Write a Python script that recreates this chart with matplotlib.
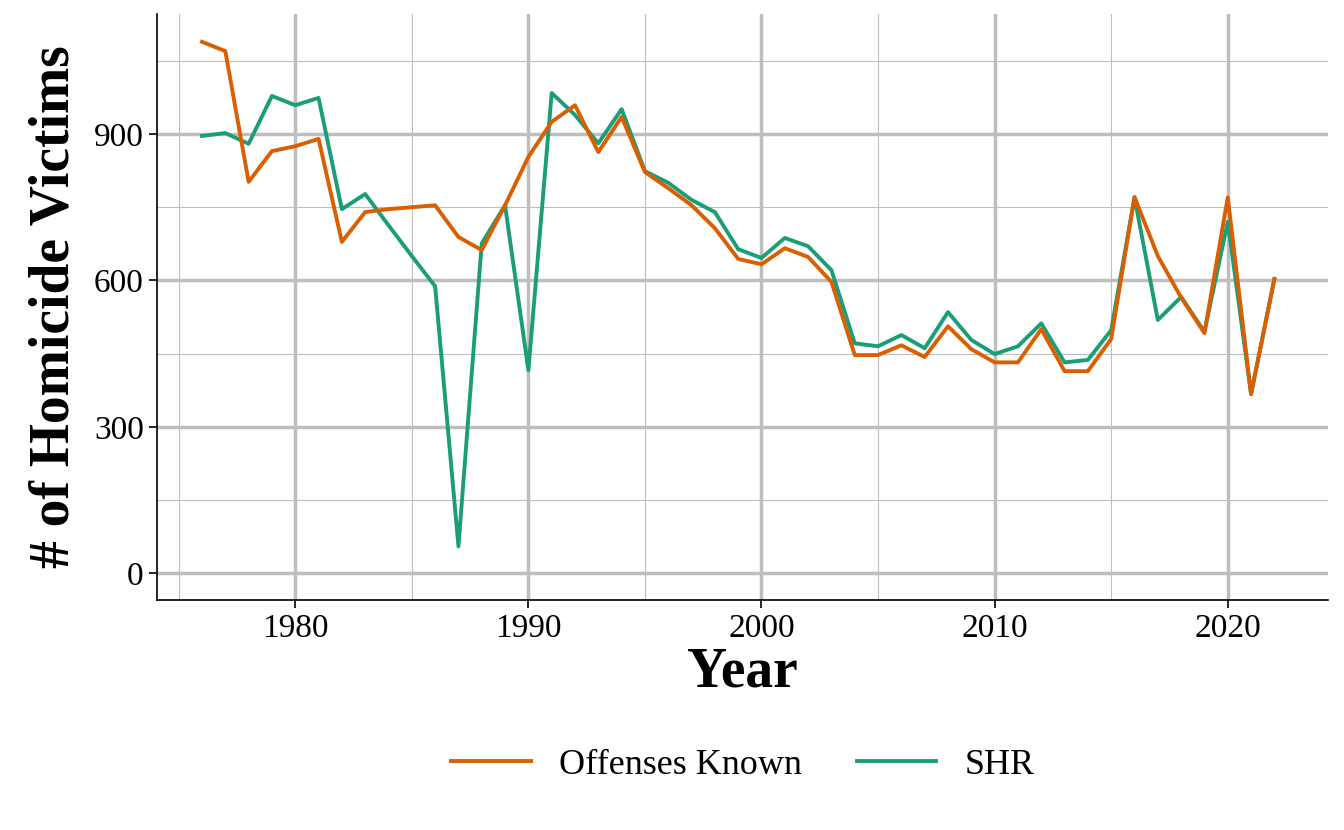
import numpy as np
import matplotlib.pyplot as plt
from matplotlib.ticker import MultipleLocator

plt.rcParams['font.family'] = ['Liberation Serif', 'DejaVu Serif']

years = np.arange(1976, 2023)
offenses_known = [1089, 1070, 802, 865, 875, 890, 679, 740, 746, 750, 754, 689, 662, 754,
                  853, 925, 959, 863, 935, 822, 789, 754, 707, 644, 633, 666, 648, 597,
                  447, 447, 467, 443, 506, 459, 432, 432, 500, 414, 414, 480, 771, 650,
                  565, 492, 770, 367, 603]
shr = [896, 902, 880, 978, 959, 974, 746, 777, 713, 650, 588, 55, 676, 754,
       416, 984, 939, 881, 951, 824, 800, 765, 740, 664, 646, 687, 670, 621,
       471, 465, 488, 461, 535, 478, 449, 465, 512, 432, 437, 498, 770, 519,
       566, 495, 720, 367, 603]

fig = plt.figure(figsize=(13.44, 8.3), dpi=100)
ax = fig.add_axes([157/1344, 1-600/830, (1328-157)/1344, (600-14)/830])

ax.plot(years, shr, color='#1B9E77', lw=2.8, label='SHR')
ax.plot(years, offenses_known, color='#D95F02', lw=2.8, label='Offenses Known')

ax.set_xlim(1974.07, 2024.3)
ax.set_ylim(-55, 1146)
ax.xaxis.set_major_locator(MultipleLocator(10))
ax.xaxis.set_minor_locator(MultipleLocator(5))
ax.yaxis.set_major_locator(MultipleLocator(300))
ax.yaxis.set_minor_locator(MultipleLocator(150))
ax.grid(which='major', color='#bebebe', lw=2.5)
ax.grid(which='minor', color='#bebebe', lw=0.8)
ax.set_axisbelow(True)
for s in ['top', 'right']:
    ax.spines[s].set_visible(False)
for s in ['left', 'bottom']:
    ax.spines[s].set_linewidth(1.2)
ax.tick_params(labelsize=24, length=6, width=1.2)
ax.tick_params(which='minor', length=0)

ax.set_xlabel('Year', fontsize=40, fontweight='bold', labelpad=2)
ax.set_ylabel('# of Homicide Victims', fontsize=40, fontweight='bold', labelpad=10)

h, l = ax.get_legend_handles_labels()
fig.legend(h[::-1], l[::-1], loc='center', bbox_to_anchor=(743/1344, 1-765/830), ncol=2,
           frameon=False, fontsize=26, handlelength=2.2, columnspacing=1.5)

fig.savefig('out.png', dpi=100)
